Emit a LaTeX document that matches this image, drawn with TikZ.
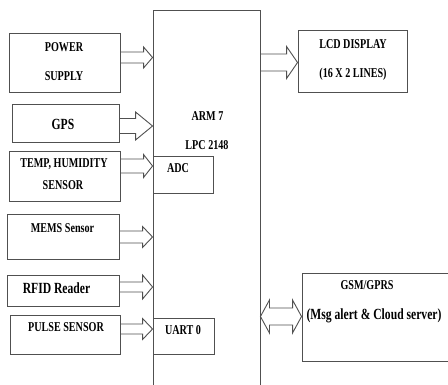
\documentclass[tikz,border=0pt]{standalone}
\usepackage{fontspec}
\setmainfont{Liberation Serif}[FakeStretch=0.75]
\usetikzlibrary{calc}
\definecolor{linec}{HTML}{505050}
\tikzset{
  box/.style={draw=linec, line width=0.9pt, inner sep=0pt, fill=none},
  lbl/.style={inner sep=0pt, font=\fontsize{13.5}{15}\selectfont\bfseries},
  lblbig/.style={inner sep=0pt, font=\fontsize{15.5}{17}\selectfont\bfseries},
  conn/.style={draw=linec, line width=0.9pt, line join=miter},
}
% #1 start point, #2 node whose x gives the tip, #3 body half, #4 head half, #5 head length
\newcommand\blockarrow[5]{%
  \draw[conn] let \p1=#1, \p2=(#2) in
    (\x1,\y1+#3) -- (\x2-#5,\y1+#3) -- (\x2-#5,\y1+#4) -- (\x2,\y1)
    -- (\x2-#5,\y1-#4) -- (\x2-#5,\y1-#3) -- (\x1,\y1-#3);}
\newcommand\dblarrow[5]{%
  \draw[conn] let \p1=#1, \p2=(#2) in
    (\x1,\y1) -- (\x1+#5,\y1+#4) -- (\x1+#5,\y1+#3) -- (\x2-#5,\y1+#3)
    -- (\x2-#5,\y1+#4) -- (\x2,\y1) -- (\x2-#5,\y1-#4) -- (\x2-#5,\y1-#3)
    -- (\x1+#5,\y1-#3) -- (\x1+#5,\y1-#4) -- cycle;}
\begin{document}
\begin{tikzpicture}[x=1pt,y=-1pt]
\clip (0,0) rectangle (448,385);
\fill[white] (0,0) rectangle (448,385);
% main controller
\node[box, minimum width=107pt, minimum height=400pt] (arm) at (206.5,210) {};
\node[box, minimum width=60pt, minimum height=37pt] (adc) at (183,174.5) {};
\node[box, minimum width=61pt, minimum height=36pt] (uart) at (183.5,336) {};
% left blocks
\node[box, minimum width=111pt, minimum height=59pt] (pw) at (64.5,62.5) {};
\node[box, minimum width=107pt, minimum height=38pt] (gps) at (65.5,123) {};
\node[box, minimum width=111pt, minimum height=50pt] (tmp) at (64.5,176) {};
\node[box, minimum width=112pt, minimum height=45pt] (mems) at (63,236.5) {};
\node[box, minimum width=112pt, minimum height=31pt] (rfid) at (63,290.5) {};
\node[box, minimum width=110pt, minimum height=39pt] (pulse) at (65,334.5) {};
% right blocks
\node[box, minimum width=109pt, minimum height=62pt] (lcd) at (352.5,61) {};
\node[box, minimum width=158pt, minimum height=88pt] (gsm) at (381,317) {};
% texts
\node[lbl] (t1) at (64,47) {POWER};
\node[lbl] (t2) at (64,76) {SUPPLY};
\node[lblbig] (t3) at (63,124) {GPS};
\node[lbl] (t4) at (64,164) {TEMP, HUMIDITY};
\node[lbl] (t5) at (63,185) {SENSOR};
\node[lbl] (t6) at (62.5,228) {MEMS Sensor};
\node[lblbig] (t7) at (56.5,288) {RFID Reader};
\node[lbl] (t8) at (66,327) {PULSE SENSOR};
\node[lbl] (t9) at (207.5,116) {ARM 7};
\node[lbl] (t10) at (207,145) {LPC 2148};
\node[lbl] (t11) at (178,168) {ADC};
\node[lbl] (t12) at (183,330) {UART 0};
\node[lbl] (t13) at (353,44) {LCD DISPLAY};
\node[lbl] (t14) at (353,74) {(16 X 2 LINES)};
\node[lbl] (t15) at (367,285) {GSM/GPRS};
\node[lblbig] (t16) at (374,316) {(Msg alert \& Cloud server)};
% block arrows
\blockarrow{($(pw.east)+(0,-5)$)}{arm.west}{5.5}{10.5}{9}
\blockarrow{($(gps.east)+(0,3)$)}{arm.west}{7.5}{14}{17}
\blockarrow{($(tmp.east)+(0,-10)$)}{arm.west}{7}{11.5}{9}
\blockarrow{($(mems.east)+(0,0.5)$)}{arm.west}{6}{10.5}{10}
\blockarrow{($(rfid.east)+(0,-3.5)$)}{arm.west}{5}{12}{10}
\blockarrow{($(pulse.east)+(0,-5.5)$)}{arm.west}{5}{10.5}{10}
\blockarrow{($(arm.east |- lcd.west)+(0,1.5)$)}{lcd.west}{8.5}{16}{11}
\dblarrow{($(arm.east |- gsm.west)+(0,-0.5)$)}{gsm.west}{8.5}{16.5}{9}
\end{tikzpicture}
\end{document}
